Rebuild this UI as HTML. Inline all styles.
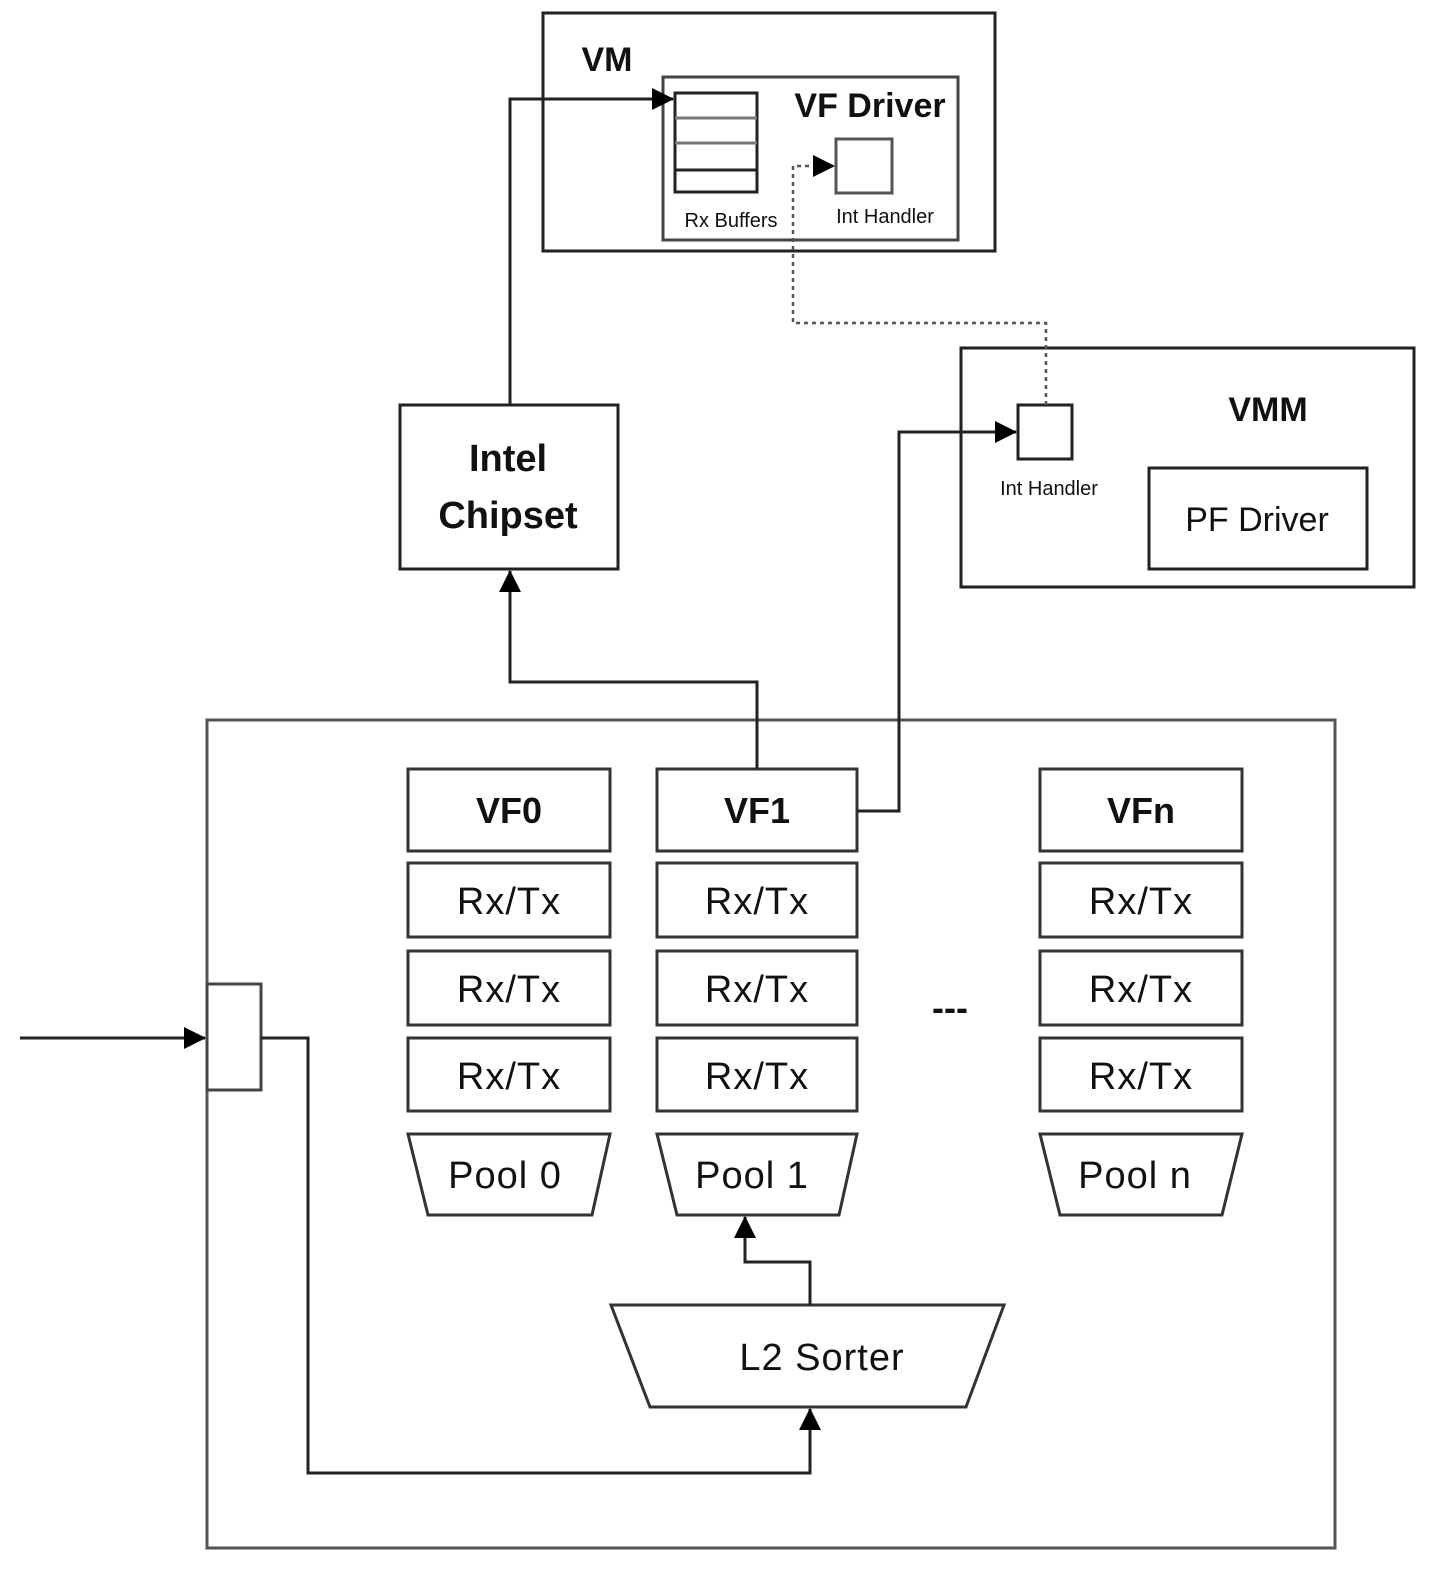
<!DOCTYPE html>
<html><head><style>html,body{margin:0;background:#fff;overflow:hidden}svg{display:block}text{font-family:"Liberation Sans",sans-serif;fill:#111}</style></head><body>
<svg width="1455" height="1585" viewBox="0 0 1455 1585">
<defs><marker id="b" markerWidth="22" markerHeight="22" refX="21" refY="11" orient="auto" markerUnits="userSpaceOnUse" viewBox="0 0 22 22"><path d="M0,0L22,11L0,22z" fill="#000"/></marker></defs>
<g fill="none" stroke="#222" stroke-width="3">
<rect x="543" y="13" width="452" height="238"/>
<rect x="663" y="77" width="295" height="163" stroke="#444"/>
<rect x="675" y="93" width="82" height="99"/>
<line x1="675" y1="118" x2="757" y2="118" stroke="#777"/><line x1="675" y1="143" x2="757" y2="143" stroke="#777"/><line x1="675" y1="170" x2="757" y2="170"/>
<rect x="836" y="139" width="56" height="54" stroke="#555"/>
<rect x="961" y="348" width="453" height="239"/>
<rect x="1018" y="405" width="54" height="54"/>
<rect x="1149" y="468" width="218" height="101"/>
<rect x="400" y="405" width="218" height="164"/>
<rect x="207" y="720" width="1128" height="828" stroke="#555"/>
<rect x="207" y="984" width="54" height="106" stroke="#444"/>
</g>
<g fill="none" stroke="#333" stroke-width="3">
<rect x="408" y="769" width="202" height="82"/><rect x="408" y="863" width="202" height="74"/><rect x="408" y="951" width="202" height="74"/><rect x="408" y="1038" width="202" height="73"/>
<rect x="657" y="769" width="200" height="82"/><rect x="657" y="863" width="200" height="74"/><rect x="657" y="951" width="200" height="74"/><rect x="657" y="1038" width="200" height="73"/>
<rect x="1040" y="769" width="202" height="82"/><rect x="1040" y="863" width="202" height="74"/><rect x="1040" y="951" width="202" height="74"/><rect x="1040" y="1038" width="202" height="73"/>
<path d="M408,1134H610L592,1215H428Z"/><path d="M657,1134H857L839,1215H677Z"/><path d="M1040,1134H1242L1222,1215H1060Z"/>
<path d="M611,1305H1004L966,1407H650Z"/>
</g>
<g fill="none" stroke="#222" stroke-width="3">
<path d="M510,405V99H673" marker-end="url(#b)"/>
<path d="M757,769V682H510V571" marker-end="url(#b)"/>
<path d="M857,811H899V432H1016" marker-end="url(#b)"/>
<path d="M20,1038H205" marker-end="url(#b)"/>
<path d="M261,1038H308V1473H810V1409" marker-end="url(#b)"/>
<path d="M810,1305V1262H745V1217" marker-end="url(#b)"/>
<path d="M1046,405V323H793V166H834" stroke-dasharray="4,4" stroke-width="2.5" stroke="#555" marker-end="url(#b)"/>
</g>
<g font-weight="bold" text-anchor="middle">
<text x="607" y="71" font-size="34">VM</text>
<text x="870" y="117" font-size="34">VF Driver</text>
<text x="1268" y="421" font-size="34">VMM</text>
<text x="1257" y="531" font-size="34" font-weight="normal">PF Driver</text>
<text x="508" y="471" font-size="38">Intel</text>
<text x="508" y="528" font-size="38">Chipset</text>
<text x="509" y="823" font-size="36">VF0</text>
<text x="757" y="823" font-size="36">VF1</text>
<text x="1141" y="823" font-size="36">VFn</text>
<text x="950" y="1020" font-size="36">---</text>
</g>
<g text-anchor="middle" font-size="38" letter-spacing="1">
<text x="509" y="914">Rx/Tx</text><text x="509" y="1002">Rx/Tx</text><text x="509" y="1089">Rx/Tx</text>
<text x="757" y="914">Rx/Tx</text><text x="757" y="1002">Rx/Tx</text><text x="757" y="1089">Rx/Tx</text>
<text x="1141" y="914">Rx/Tx</text><text x="1141" y="1002">Rx/Tx</text><text x="1141" y="1089">Rx/Tx</text>
<text x="505" y="1188">Pool 0</text><text x="752" y="1188">Pool 1</text><text x="1135" y="1188">Pool n</text>
<text x="822" y="1370">L2 Sorter</text>
</g>
<g text-anchor="middle" font-size="20" fill="#333">
<text x="731" y="227">Rx Buffers</text><text x="885" y="223">Int Handler</text><text x="1049" y="495">Int Handler</text>
</g>
</svg>
</body></html>
